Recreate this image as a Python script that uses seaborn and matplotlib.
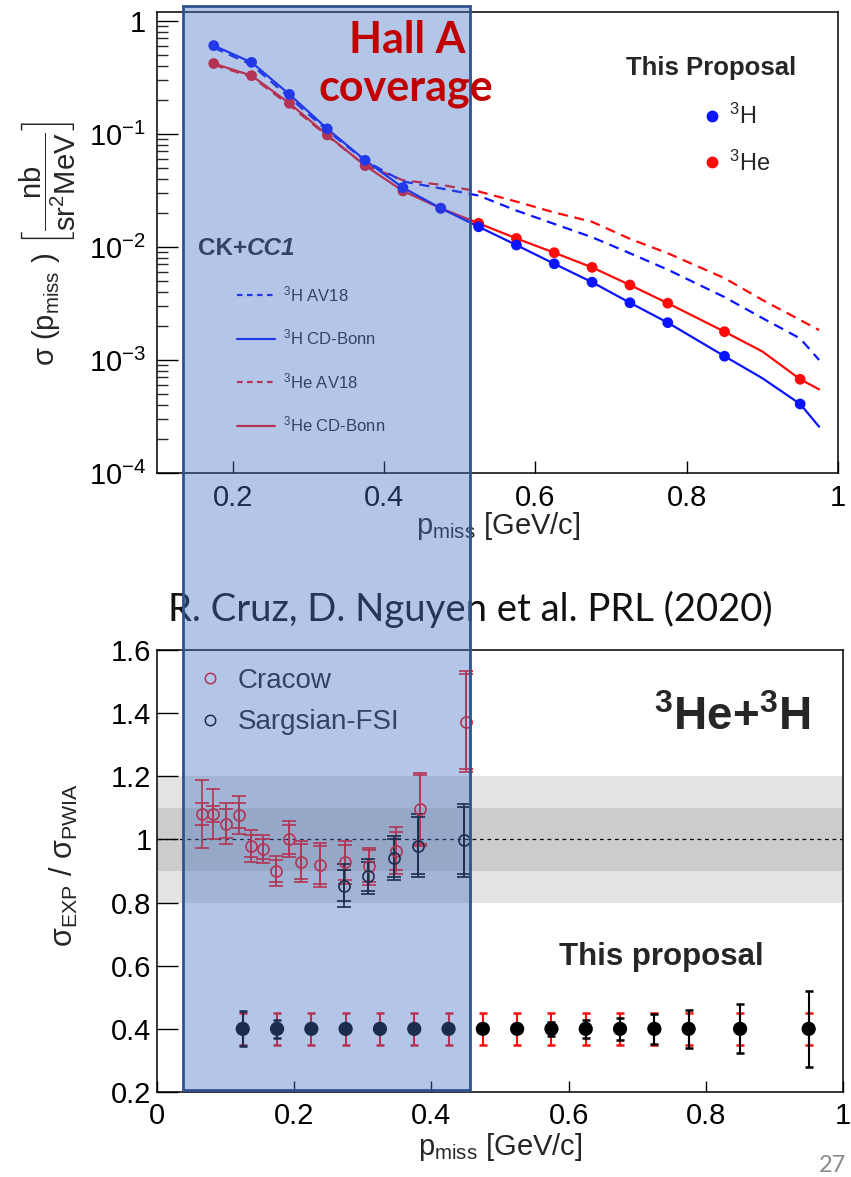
import numpy as np
import pandas as pd
import matplotlib
matplotlib.use("Agg")
import matplotlib.pyplot as plt
import seaborn as sns
from matplotlib.patches import Rectangle
from matplotlib.lines import Line2D
from matplotlib.ticker import LogLocator, NullFormatter, NullLocator

# ---------------- data ----------------
# top panel: proposal points (p_miss in GeV/c, sigma in nb/(sr^2 MeV))
p_points = [0.175, 0.225, 0.275, 0.325, 0.375, 0.425, 0.475, 0.525, 0.575,
            0.625, 0.675, 0.725, 0.775, 0.85, 0.95]
h3_points = [0.605, 0.43, 0.224, 0.111, 0.0585, 0.0335, 0.022, 0.0151, 0.0104,
             0.0071, 0.00488, 0.00321, 0.00214, 0.00108, 0.000408]
he3_points = [0.42, 0.328, 0.187, 0.098, 0.0525, 0.0313, 0.022, 0.0162, 0.0119,
              0.0089, 0.0066, 0.00461, 0.00318, 0.00178, 0.000675]

# theory curves (CK+CC1)
p_curve = [0.175, 0.225, 0.275, 0.325, 0.375, 0.425, 0.475, 0.525, 0.575,
           0.625, 0.675, 0.725, 0.775, 0.85, 0.9, 0.95, 0.975]
h3_cdbonn = [0.605, 0.43, 0.224, 0.111, 0.0585, 0.0335, 0.022, 0.0151, 0.0104,
             0.0071, 0.00488, 0.00321, 0.00214, 0.00108, 0.00069, 0.000408, 0.000257]
he3_cdbonn = [0.42, 0.328, 0.187, 0.098, 0.0525, 0.0313, 0.022, 0.0162, 0.0119,
              0.0089, 0.0066, 0.00461, 0.00318, 0.00178, 0.00119, 0.000675, 0.00055]
h3_av18 = [0.58, 0.41, 0.21, 0.107, 0.058, 0.038, 0.033, 0.0285, 0.021,
           0.016, 0.0122, 0.0088, 0.0063, 0.0036, 0.00235, 0.00155, 0.001]
he3_av18 = [0.41, 0.32, 0.18, 0.096, 0.053, 0.039, 0.0355, 0.031, 0.0252,
            0.0202, 0.0167, 0.0118, 0.0088, 0.0053, 0.0034, 0.00226, 0.00184]

# bottom panel: ratio sigma_EXP / sigma_PWIA
cracow_p = [0.065, 0.082, 0.101, 0.119, 0.137, 0.155, 0.174, 0.192, 0.210,
            0.238, 0.274, 0.309, 0.348, 0.383, 0.450]
cracow_r = [1.08, 1.08, 1.05, 1.076, 0.98, 0.97, 0.90, 1.0, 0.93,
            0.92, 0.928, 0.915, 0.964, 1.095, 1.373]
cracow_err = [0.107, 0.08, 0.065, 0.06, 0.05, 0.045, 0.046, 0.057, 0.066,
              0.07, 0.068, 0.059, 0.075, 0.116, 0.16]
cracow_stat = [0.035, 0.025, 0.045, 0.04, 0.035, 0.032, 0.035, 0.045, 0.055,
               0.06, 0.055, 0.05, 0.06, 0.11, 0.15]

sarg_p = [0.272, 0.308, 0.345, 0.381, 0.447]
sarg_r = [0.854, 0.883, 0.94, 0.98, 0.997]
sarg_err = [0.068, 0.055, 0.07, 0.1, 0.115]
sarg_stat = [0.05, 0.045, 0.06, 0.09, 0.105]

prop_p = [0.125, 0.175, 0.225, 0.275, 0.325, 0.375, 0.425, 0.475, 0.525,
          0.575, 0.625, 0.675, 0.725, 0.775, 0.85, 0.95]
prop_r = [0.4, 0.4, 0.4, 0.4, 0.4, 0.4, 0.4, 0.4, 0.4,
          0.4, 0.4, 0.4, 0.4, 0.4, 0.4, 0.4]
prop_err_he3 = [0.05, 0.05, 0.05, 0.05, 0.05, 0.05, 0.05, 0.05, 0.05,
                0.05, 0.05, 0.05, 0.05, 0.05, 0.05, 0.05]
prop_err_h3 = [0.055, 0.028, 0.01, 0.01, 0.01, 0.01, 0.01, 0.01, 0.01,
               0.023, 0.028, 0.035, 0.047, 0.06, 0.078, 0.12]

top_yticks = [1e-4, 1e-3, 1e-2, 1e-1, 1]
top_yticklabels = [r"$10^{-4}$", r"$10^{-3}$", r"$10^{-2}$", r"$10^{-1}$", "1"]
top_xticks = [0.2, 0.4, 0.6, 0.8, 1.0]
top_xticklabels = ["0.2", "0.4", "0.6", "0.8", "1"]
bot_xticks = [0, 0.2, 0.4, 0.6, 0.8, 1.0]
bot_xticklabels = ["0", "0.2", "0.4", "0.6", "0.8", "1"]
bot_yticks = [0.2, 0.4, 0.6, 0.8, 1.0, 1.2, 1.4, 1.6]
bot_yticklabels = ["0.2", "0.4", "0.6", "0.8", "1", "1.2", "1.4", "1.6"]

# ---------------- style ----------------
sns.set_theme(style="ticks")
plt.rcParams["font.family"] = ["Liberation Sans", "DejaVu Sans"]
plt.rcParams["mathtext.fontset"] = "custom"
plt.rcParams["mathtext.rm"] = "Liberation Sans"
plt.rcParams["mathtext.it"] = "Liberation Sans:italic"
plt.rcParams["mathtext.bf"] = "Liberation Sans:bold"
plt.rcParams["mathtext.default"] = "rm"
plt.rcParams["axes.linewidth"] = 1.1
plt.rcParams["axes.edgecolor"] = "black"

BLUE = "#0a14ff"
RED = "#ff0a0a"

W, H = 851, 1177
fig = plt.figure(figsize=(W / 100, H / 100), dpi=100)


def fx(px):
    return px / W


def fy(py):
    return 1 - py / H


ax1 = fig.add_axes([fx(157), fy(473), (838 - 157) / W, (473 - 12) / H])
ax2 = fig.add_axes([fx(157), fy(1092), (843 - 157) / W, (1092 - 650) / H])

# ---------------- top panel ----------------
df_curve = pd.DataFrame({"p": p_curve, "h3_cd": h3_cdbonn, "he3_cd": he3_cdbonn,
                         "h3_av": h3_av18, "he3_av": he3_av18})
dash = (0, (4.5, 3))
sns.lineplot(data=df_curve, x="p", y="he3_av", ax=ax1, color=RED, linestyle=dash, lw=1.6)
sns.lineplot(data=df_curve, x="p", y="h3_av", ax=ax1, color=BLUE, linestyle=dash, lw=1.6)
sns.lineplot(data=df_curve, x="p", y="he3_cd", ax=ax1, color=RED, lw=1.6)
sns.lineplot(data=df_curve, x="p", y="h3_cd", ax=ax1, color=BLUE, lw=1.6)
sns.scatterplot(x=p_points, y=he3_points, ax=ax1, color=RED, s=60, edgecolor="none", zorder=4)
sns.scatterplot(x=p_points, y=h3_points, ax=ax1, color=BLUE, s=60, edgecolor="none", zorder=4)

ax1.set_yscale("log")
ax1.set_xlim(0.1, 1.0)
ax1.set_ylim(1e-4, 1.2)
ax1.set_xticks(top_xticks, top_xticklabels)
ax1.set_yticks(top_yticks, top_yticklabels)
ax1.yaxis.set_minor_locator(LogLocator(base=10, subs=np.arange(2, 10)))
ax1.yaxis.set_minor_formatter(NullFormatter())
ax1.xaxis.set_minor_locator(NullLocator())
ax1.set_xlabel("")
ax1.set_ylabel("")
ax1.tick_params(axis="y", which="major", direction="in", length=15, width=1.0,
                labelsize=21, pad=8, colors="black")
ax1.tick_params(axis="y", which="minor", direction="in", length=8, width=1.0)
ax1.tick_params(axis="x", which="major", direction="in", length=9, width=1.0,
                labelsize=21, pad=8, colors="black")

# CK+CC1 legend
leg1 = ax1.legend(
    handles=[Line2D([], [], color=BLUE, ls=(0, (2.5, 2)), lw=1.6),
             Line2D([], [], color=BLUE, lw=1.6),
             Line2D([], [], color=RED, ls=(0, (2.5, 2)), lw=1.6),
             Line2D([], [], color=RED, lw=1.6)],
    labels=[r"$^{3}$H AV18", r"$^{3}$H CD-Bonn", r"$^{3}$He AV18", r"$^{3}$He CD-Bonn"],
    loc="upper left", bbox_to_anchor=(fx(237), fy(284)), bbox_transform=fig.transFigure,
    frameon=False, fontsize=12, handlelength=2.3, handletextpad=0.45,
    labelspacing=1.42, borderpad=0, borderaxespad=0)
ax1.add_artist(leg1)

# This Proposal legend
leg2 = ax1.legend(
    handles=[Line2D([], [], ls="none", marker="o", color=BLUE, ms=7.5),
             Line2D([], [], ls="none", marker="o", color=RED, ms=7.5)],
    labels=[r"$^{3}$H", r"$^{3}$He"],
    loc="upper left", bbox_to_anchor=(fx(703), fy(104)), bbox_transform=fig.transFigure,
    frameon=False, fontsize=17, handlelength=0.8, handletextpad=0.3,
    labelspacing=0.9, borderpad=0, borderaxespad=0)

fig.text(fx(711), fy(75), "This Proposal", ha="center", va="baseline",
         fontsize=18.5, weight="bold")

t_ck = fig.text(fx(198), fy(255), "CK+", ha="left", va="baseline",
                fontsize=17.5, weight="bold")
fig.canvas.draw()
bb = t_ck.get_window_extent()
fig.text(bb.x1 / W, fy(255), "CC1", ha="left", va="baseline",
         fontsize=17.5, weight="bold", style="italic")

fig.text(fx(48), fy(244),
         r"σ (p$_{\mathrm{miss}}$ ) $\left[\dfrac{\mathrm{nb}}{\mathrm{sr^{2}MeV}}\right]$",
         rotation=90, ha="center", va="center", fontsize=21)
fig.text(fx(498), fy(534), r"p$_{\mathrm{miss}}$ [GeV/c]", ha="center",
         va="baseline", fontsize=21)

# ---------------- bottom panel ----------------
ax2.axhspan(0.8, 1.2, color="#e3e3e3", lw=0, zorder=0)
ax2.axhspan(0.9, 1.1, color="#cccccc", lw=0, zorder=0)
ax2.axhline(1.0, color="black", lw=0.9, ls=(0, (3, 3)), zorder=1)

ax2.errorbar(cracow_p, cracow_r, yerr=cracow_err, fmt="o", mfc="none", mec=RED,
             ecolor=RED, ms=8, mew=1.2, elinewidth=1.2, capsize=5, capthick=1.2, zorder=3)
ax2.errorbar(cracow_p, cracow_r, yerr=cracow_stat, fmt="none", ecolor=RED,
             elinewidth=1.2, capsize=5, capthick=1.2, zorder=3)
ax2.errorbar(sarg_p, sarg_r, yerr=sarg_err, fmt="o", mfc="none", mec="black",
             ecolor="black", ms=8, mew=1.2, elinewidth=1.2, capsize=5, capthick=1.2, zorder=3)
ax2.errorbar(sarg_p, sarg_r, yerr=sarg_stat, fmt="none", ecolor="black",
             elinewidth=1.2, capsize=5, capthick=1.2, zorder=3)

ax2.errorbar(prop_p, prop_r, yerr=prop_err_he3, fmt="none", ecolor=RED,
             elinewidth=1.5, capsize=3.2, capthick=1.8, zorder=3)
ax2.errorbar(prop_p, prop_r, yerr=prop_err_h3, fmt="none", ecolor="black",
             elinewidth=1.5, capsize=3.2, capthick=1.8, zorder=4)
sns.scatterplot(x=prop_p, y=prop_r, ax=ax2, color="black", s=105, edgecolor="none", zorder=5)

ax2.set_xlim(0, 1)
ax2.set_ylim(0.2, 1.6)
ax2.set_xticks(bot_xticks, bot_xticklabels)
ax2.set_yticks(bot_yticks, bot_yticklabels)
ax2.set_xlabel("")
ax2.set_ylabel("")
ax2.tick_params(axis="y", which="major", direction="in", length=15, width=1.0,
                labelsize=21, pad=4, colors="black")
ax2.tick_params(axis="x", which="major", direction="in", length=8, width=1.0,
                labelsize=21, pad=7, colors="black")

ax2.legend(
    handles=[Line2D([], [], ls="none", marker="o", mfc="none", mec=RED, ms=7.5, mew=1.1),
             Line2D([], [], ls="none", marker="o", mfc="none", mec="black", ms=7.5, mew=1.1)],
    labels=["Cracow", "Sargsian-FSI"],
    loc="upper left", bbox_to_anchor=(fx(196), fy(668)), bbox_transform=fig.transFigure,
    frameon=False, fontsize=20, handlelength=1.0, handletextpad=0.5,
    labelspacing=0.55, borderpad=0, borderaxespad=0)

fig.text(fx(732), fy(730), r"$^{\mathbf{3}}$He+$^{\mathbf{3}}$H", ha="center",
         va="baseline", fontsize=33, weight="bold")
fig.text(fx(661), fy(965), "This proposal", ha="center", va="baseline",
         fontsize=22.5, weight="bold")
fig.text(fx(64), fy(865), r"σ$_{\mathrm{EXP}}$ / σ$_{\mathrm{PWIA}}$", rotation=90,
         ha="center", va="center", fontsize=22)
fig.text(fx(500), fy(1155), r"p$_{\mathrm{miss}}$ [GeV/c]", ha="center",
         va="baseline", fontsize=21)

fig.text(fx(470), fy(621), "R. Cruz, D. Nguyen et al. PRL (2020)", ha="center",
         va="baseline", fontsize=27.5, family=["Lato", "DejaVu Sans"], color="#111111")
fig.text(fx(846), fy(1172), "27", ha="right", va="baseline", fontsize=17,
         family=["Lato", "DejaVu Sans"], color="#8a8a8a")

# ---------------- Hall A coverage overlay ----------------
fig.add_artist(Rectangle((fx(183), fy(1090)), (470 - 183) / W, (1090 - 6) / H,
                         transform=fig.transFigure, facecolor=(0.267, 0.447, 0.769, 0.4),
                         edgecolor="#2F528F", lw=2.0, zorder=10))
fig.text(fx(407), fy(53), "Hall A", ha="center", va="baseline", fontsize=31,
         weight="bold", family=["Lato", "DejaVu Sans"], color="#C00000", zorder=11)
fig.text(fx(406), fy(100), "coverage", ha="center", va="baseline", fontsize=31,
         weight="bold", family=["Lato", "DejaVu Sans"], color="#C00000", zorder=11)

fig.savefig("out.png", dpi=100)
